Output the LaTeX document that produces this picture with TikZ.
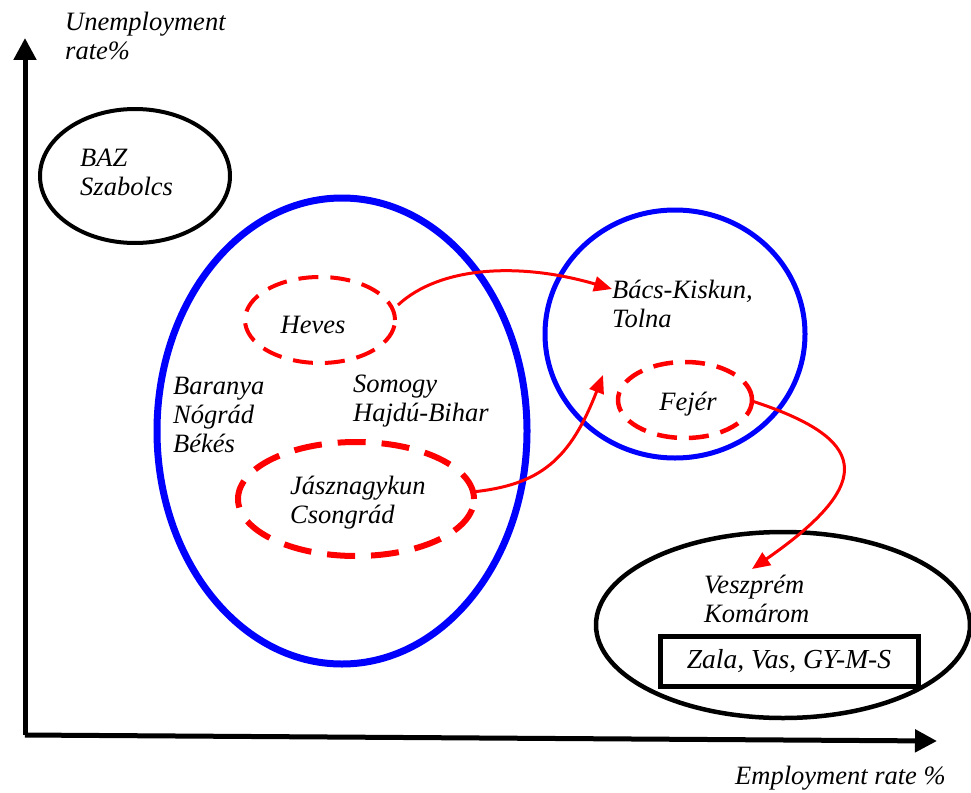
\documentclass[tikz,border=0pt]{standalone}
\usepackage{fontspec}
\setmainfont{Liberation Serif}
\usetikzlibrary{arrows.meta,shapes.geometric}
\begin{document}
\begin{tikzpicture}[x=1pt,y=-1pt,
  lbl/.style={font=\fontsize{26.5}{29}\selectfont\itshape, align=left, inner sep=0pt, anchor=west},
  oval/.style={ellipse, draw, inner sep=0pt},
  redarrow/.style={red, line width=3pt, -{Triangle[length=18pt,width=15pt]}},
  axis/.style={line width=5pt, -{Triangle[length=22pt,width=22pt]}}]
\useasboundingbox (0,0) rectangle (971,792);
% axes
\coordinate (origin) at (25,735);
\coordinate (ytip) at (25,38);
\coordinate (xtip) at (937,741);
\draw[axis] (origin) -- (ytip);
\draw[axis] (origin) -- (xtip);
\node[lbl] (ylab) at (65,36) {Unemployment\\rate\%};
\node[lbl] (xlab) at (735,778) {Employment rate \%};
% BAZ
\node[oval, line width=4pt, minimum width=190pt, minimum height=134pt] (baz) at (135,176) {};
\node[lbl] (baztxt) at (80,172) {BAZ\\Szabolcs};
% big blue
\node[oval, draw=blue, line width=7pt, minimum width=370pt, minimum height=466pt] (bigblue) at (342,431) {};
\node[oval, draw=red, line width=4pt, dash pattern=on 20pt off 12pt, minimum width=150pt, minimum height=86pt] (hevesov) at (320,320) {};
\node[lbl, anchor=center] (heves) at (313,325) {Heves};
\node[lbl] (baranya) at (173,415) {Baranya\\Nógrád\\Békés};
\node[lbl] (somogy) at (353,401) {Somogy\\Hajdú-Bihar};
\node[oval, draw=red, line width=6pt, dash pattern=on 28pt off 16pt, minimum width=236pt, minimum height=114pt] (jaszov) at (356,499) {};
\node[lbl] (jasz) at (290,503) {Jásznagykun\\Csongrád};
% right blue
\node[oval, draw=blue, line width=5pt, minimum width=260pt, minimum height=248pt] (rblue) at (675,334) {};
\node[lbl] (bacs) at (612,304) {Bács-Kiskun,\\Tolna};
\node[oval, draw=red, line width=4.5pt, dash pattern=on 20pt off 12pt, minimum width=134pt, minimum height=76pt] (fejerov) at (685,400) {};
\node[lbl, anchor=center] (fejer) at (688,404) {Fejér};
% bottom
\node[oval, line width=4.5pt, minimum width=374pt, minimum height=186pt] (bottom) at (783,625) {};
\node[lbl] (veszp) at (704,599) {Veszprém\\Komárom};
\node[draw, line width=5pt, minimum width=258pt, minimum height=50pt, inner sep=0pt, font=\fontsize{27.5}{30}\selectfont\itshape] (zala) at (789,661) {Zala, Vas, GY-M-S};
% arrows
\coordinate (a1s) at (398,305);
\coordinate (a1e) at (612,289);
\coordinate (a2s) at (472,492);
\coordinate (a2e) at (603,375);
\coordinate (a3s) at (752,401);
\coordinate (a3e) at (752,569);
\draw[redarrow] (a1s) .. controls (440,266) and (520,262) .. (a1e);
\draw[redarrow] (a2s) .. controls (540,485) and (570,460) .. (a2e);
\draw[redarrow] (a3s) .. controls (865,438) and (880,480) .. (a3e);
\end{tikzpicture}
\end{document}
